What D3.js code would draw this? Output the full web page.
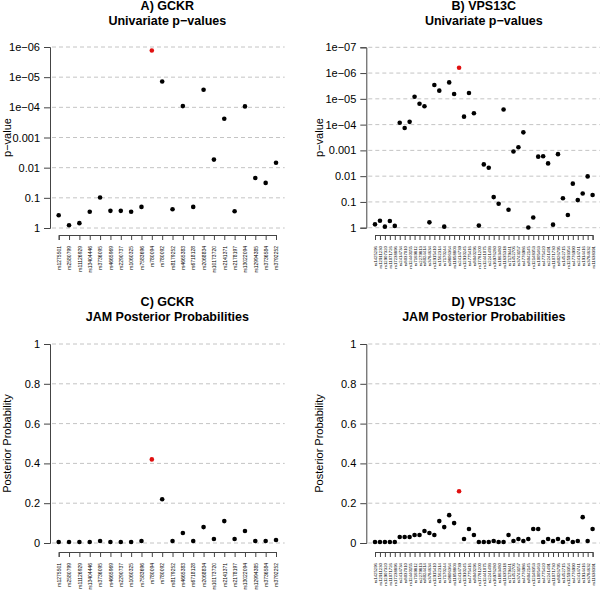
<!DOCTYPE html>
<html lang="en">
<head>
<meta charset="UTF-8">
<title>GCKR / VPS13C univariate p-values and JAM posterior probabilities</title>
<style>
    body { margin: 0; background: #fff; }
    svg { display: block; font-family: "Liberation Sans", Arial, Helvetica, sans-serif; }
    .grid line { stroke: #c4c4c4; stroke-dasharray: 4,3; }
    .axis path, .axis line { stroke: #444; }
    .axis text { fill: #000; }
</style>
</head>
<body>
<svg id="chart" width="600" height="593"></svg>
<script src="https://d3js.org/d3.v7.min.js"></script>
<script>
// SNPs in each region
const gckrSnps = ["rs1275501", "rs2580799", "rs11126929", "rs13404446", "rs3736095", "rs4665969",
    "rs2290737", "rs1060325", "rs7583696", "rs780094", "rs780092", "rs8179252", "rs4665383",
    "rs6718128", "rs2068834", "rs10173720", "rs2141371", "rs2178197", "rs13022094",
    "rs12994385", "rs3736584", "rs3792252"];
const vpsSnps = ["rs1425296", "rs12911230", "rs12907320", "rs11071726", "rs17238896", "rs2414734",
    "rs8037010", "rs12440155", "rs7169812", "rs2279813", "rs8024414", "rs3784634", "rs12915410",
    "rs1562314", "rs7170244", "rs9806364", "rs11858803", "rs2414739", "rs12910245", "rs4775416",
    "rs8040296", "rs17781200", "rs12441075", "rs2241493", "rs16976280", "rs1863480", "rs11635318",
    "rs7179441", "rs1452706", "rs3743157", "rs4776986", "rs8042145", "rs12148353", "rs1005463",
    "rs4775420", "rs2241491", "rs11071730", "rs8026795", "rs1452715", "rs12593354", "rs4776990",
    "rs2414741", "rs1914416", "rs3784632", "rs11638391"];

// univariate p-values
const gckrP = [0.38, 0.81, 0.69, 0.29, 0.098, 0.27, 0.27, 0.29, 0.20, 1.3e-6, 1.4e-5, 0.24,
    9.1e-5, 0.20, 2.6e-5, 5.4e-3, 2.4e-4, 0.28, 9.3e-5, 0.022, 0.032, 6.9e-3];
const vpsP = [0.74, 0.54, 0.91, 0.55, 0.85, 8.5e-5, 1.35e-4, 7.8e-5, 8.3e-6, 1.55e-5, 1.95e-5,
    0.62, 2.9e-6, 4.8e-6, 0.91, 2.3e-6, 6.5e-6, 6.2e-7, 4.9e-5, 5.9e-6, 3.6e-5, 0.83, 3.5e-3,
    4.7e-3, 0.065, 0.117, 2.6e-5, 0.20, 1.1e-3, 7.6e-4, 2.0e-4, 0.98, 0.40, 1.75e-3, 1.7e-3,
    3.2e-3, 0.76, 1.4e-3, 0.072, 0.32, 0.0195, 0.085, 0.047, 0.0102, 0.054];

// JAM posterior probabilities
const gckrPP = [0.005, 0.005, 0.005, 0.005, 0.01, 0.005, 0.005, 0.005, 0.01, 0.42, 0.22, 0.01,
    0.05, 0.01, 0.08, 0.02, 0.11, 0.02, 0.06, 0.01, 0.01, 0.015];
const vpsPP = [0.005, 0.005, 0.005, 0.005, 0.005, 0.03, 0.03, 0.03, 0.04, 0.04, 0.06, 0.05,
    0.04, 0.11, 0.08, 0.14, 0.10, 0.26, 0.02, 0.07, 0.04, 0.005, 0.005, 0.005, 0.01, 0.005,
    0.005, 0.04, 0.01, 0.02, 0.01, 0.02, 0.07, 0.07, 0.005, 0.02, 0.01, 0.02, 0.005, 0.02,
    0.005, 0.01, 0.13, 0.01, 0.07];

// top hit in each region
const gckrTop = "rs780094";
const vpsTop = "rs2414739";

// y tick labels
const pTicks6 = [1, 0.1, 0.01, 0.001, 1e-4, 1e-5, 1e-6];
const pTicks7 = [1, 0.1, 0.01, 0.001, 1e-4, 1e-5, 1e-6, 1e-7];
const pTickLabels = ["1", "0.1", "0.01", "0.001", "1e\u221204", "1e\u221205", "1e\u221206", "1e\u221207"];
const ppTicks = [0, 0.2, 0.4, 0.6, 0.8, 1];
const ppTickLabels = ["0", "0.2", "0.4", "0.6", "0.8", "1"];

const svg = d3.select("#chart");

function panel(o) {
    const n = o.snps.length;
    const step = (o.right - o.left) / ((n - 1) * 1.08);
    const x0 = o.left + 0.04 * (n - 1) * step;
    const x = d3.scaleLinear().domain([0, n - 1]).range([x0, x0 + (n - 1) * step]);
    const y = o.log
        ? d3.scaleLog().domain([1, o.ticks[o.ticks.length - 1]]).range([o.yBot, o.yTop])
        : d3.scaleLinear().domain([0, 1]).range([o.yBot, o.yTop]);

    const g = svg.append("g");

    // dashed guide lines
    g.append("g").attr("class", "grid")
        .selectAll("line").data(o.ticks).join("line")
        .attr("x1", o.left + 2).attr("x2", o.right)
        .attr("y1", d => y(d)).attr("y2", d => y(d));

    // y axis
    const ya = g.append("g").attr("class", "axis")
        .attr("transform", `translate(${o.left},0)`)
        .call(d3.axisLeft(y).tickValues(o.ticks).tickSizeOuter(0).tickSize(6).tickPadding(4)
            .tickFormat((d, i) => o.labels[i]));
    ya.selectAll("text").attr("font-size", 11);

    // x axis with rotated SNP names
    const xa = g.append("g").attr("class", "axis")
        .attr("transform", `translate(0,${o.axisY})`)
        .call(d3.axisBottom(x).tickValues(d3.range(n)).tickSizeOuter(0).tickSize(5)
            .tickFormat(i => o.snps[i]));
    xa.selectAll("text")
        .attr("font-size", o.labelSize)
        .attr("text-anchor", "end")
        .attr("transform", "rotate(-90)")
        .attr("x", -11).attr("y", 0).attr("dy", "0.35em")
        .attr("fill", "#444");

    // points
    g.append("g").selectAll("circle").data(o.values).join("circle")
        .attr("cx", (d, i) => x(i))
        .attr("cy", d => y(d))
        .attr("r", 2.3)
        .attr("fill", (d, i) => o.snps[i] === o.top ? "#e01010" : "#000");

    // titles
    const cx = (o.left + o.right) / 2;
    g.append("text").attr("x", cx).attr("y", o.titleY).attr("text-anchor", "middle")
        .attr("font-size", 12.5).attr("font-weight", "bold").text(o.title1);
    g.append("text").attr("x", cx).attr("y", o.titleY + 15).attr("text-anchor", "middle")
        .attr("font-size", 12.5).attr("font-weight", "bold").text(o.title2);

    // y title
    g.append("text")
        .attr("transform", `translate(${o.ylabX},${(o.yTop + o.yBot) / 2}) rotate(-90)`)
        .attr("text-anchor", "middle").attr("font-size", 11).text(o.ylab);
}

panel({ snps: gckrSnps, values: gckrP, top: gckrTop, log: true, ticks: pTicks6, labels: pTickLabels,
    left: 50, right: 284.7, yTop: 47, yBot: 228, axisY: 235, labelSize: 5,
    title1: "A) GCKR", title2: "Univariate p\u2212values", titleY: 9.5, ylab: "p\u2212value", ylabX: 10.5 });

panel({ snps: vpsSnps, values: vpsP, top: vpsTop, log: true, ticks: pTicks7, labels: pTickLabels,
    left: 366.3, right: 601.3, yTop: 47.3, yBot: 227.7, axisY: 235, labelSize: 4.3,
    title1: "B) VPS13C", title2: "Univariate p\u2212values", titleY: 9.5, ylab: "p\u2212value", ylabX: 323 });

panel({ snps: gckrSnps, values: gckrPP, top: gckrTop, log: false, ticks: ppTicks, labels: ppTickLabels,
    left: 50, right: 284.7, yTop: 344, yBot: 543, axisY: 552, labelSize: 5,
    title1: "C) GCKR", title2: "JAM Posterior Probabilities", titleY: 306, ylab: "Posterior Probability", ylabX: 10.5 });

panel({ snps: vpsSnps, values: vpsPP, top: vpsTop, log: false, ticks: ppTicks, labels: ppTickLabels,
    left: 366.3, right: 601.3, yTop: 344, yBot: 543, axisY: 552, labelSize: 4.3,
    title1: "D) VPS13C", title2: "JAM Posterior Probabilities", titleY: 306, ylab: "Posterior Probability", ylabX: 323 });
</script>
</body>
</html>
